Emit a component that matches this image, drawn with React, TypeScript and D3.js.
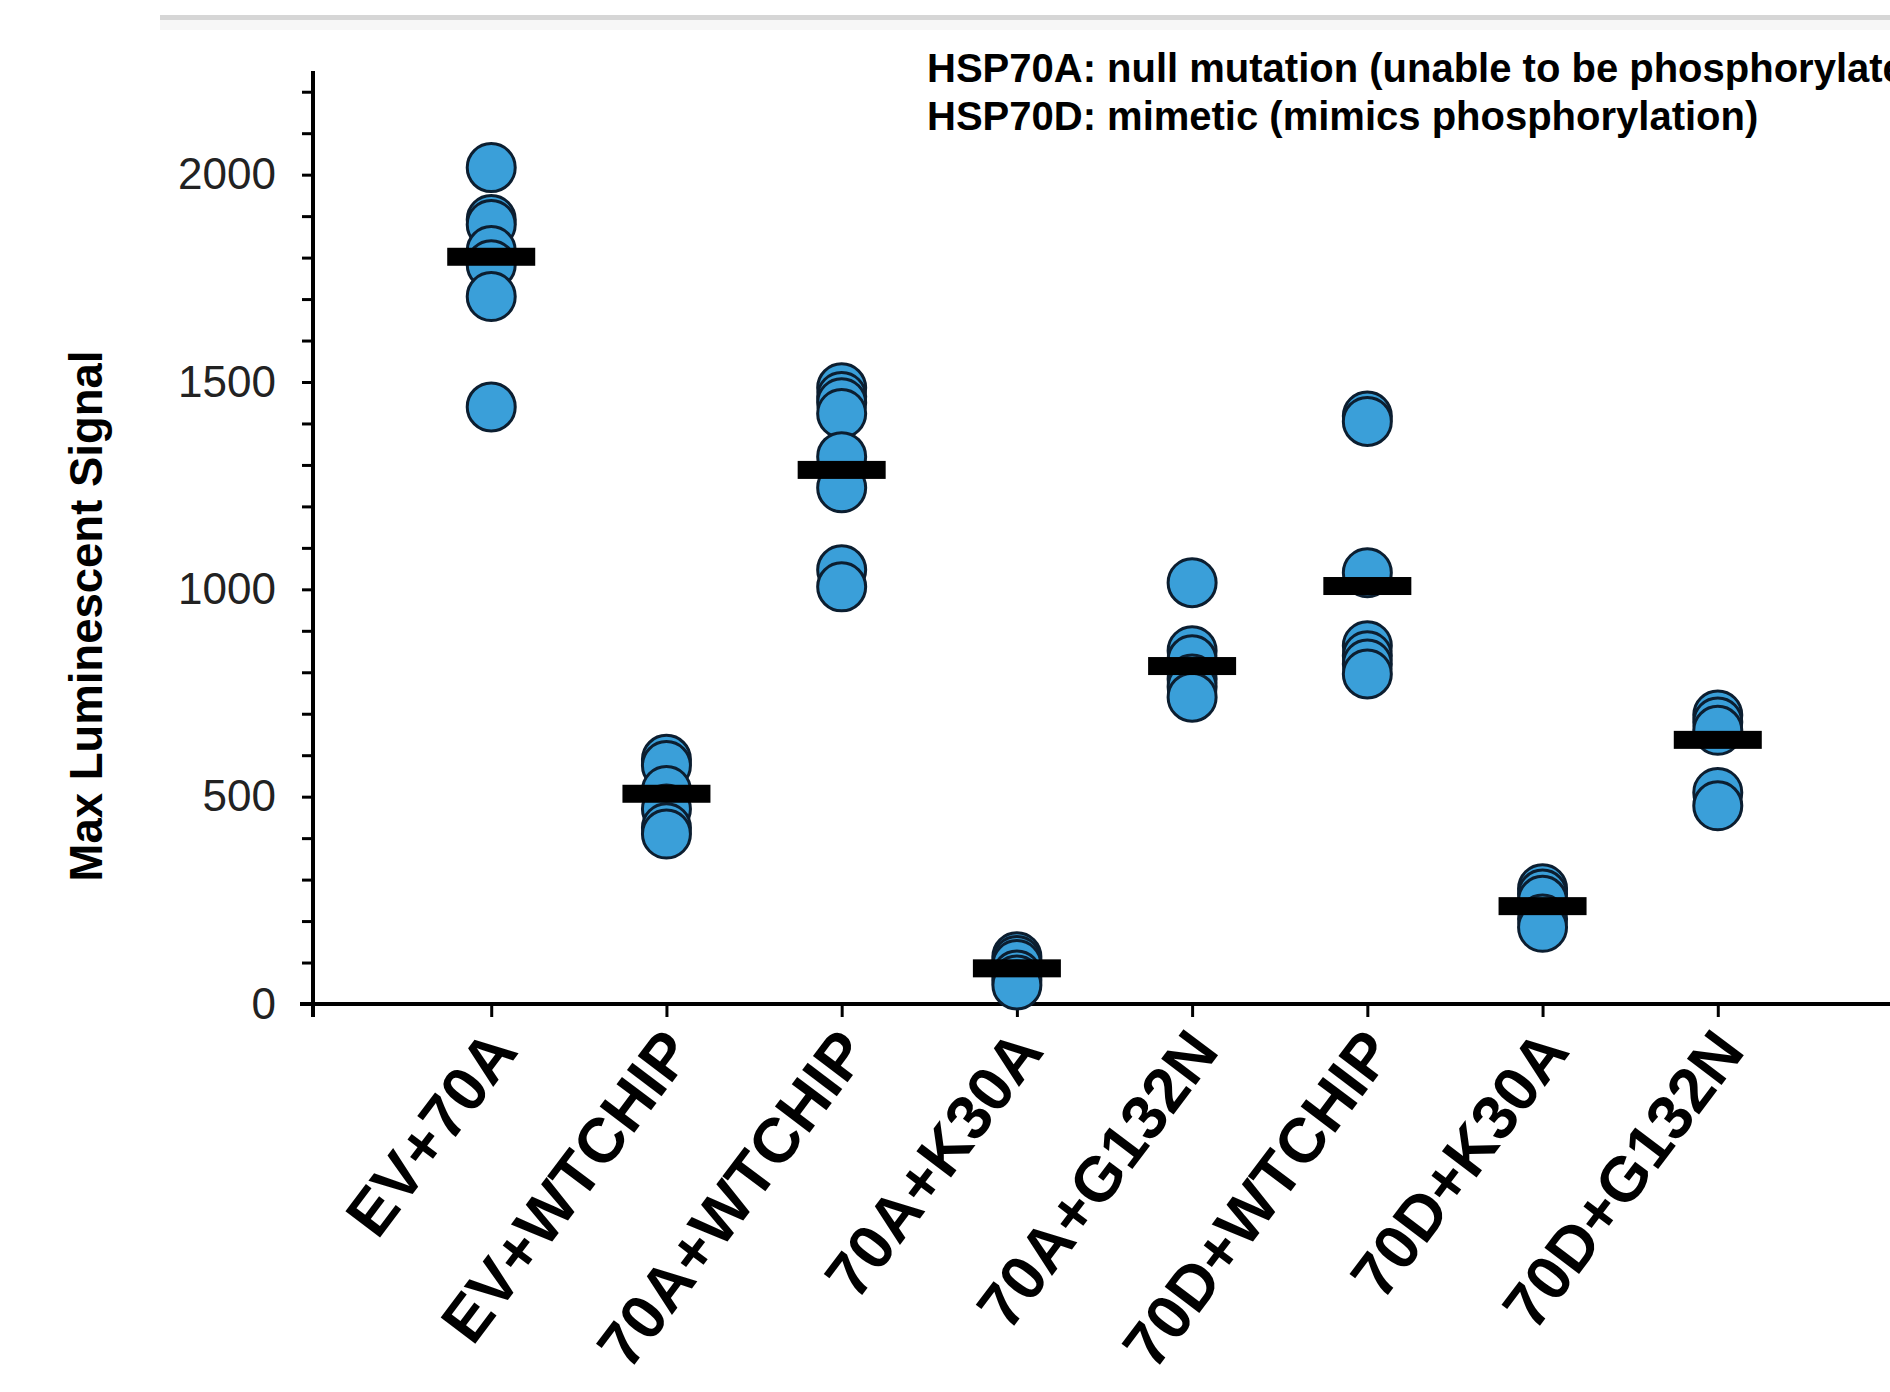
import React, { useRef, useEffect } from "react";
import * as d3 from "d3";

// groups along the x axis
const categories = [
  "EV+70A",
  "EV+WTCHIP",
  "70A+WTCHIP",
  "70A+K30A",
  "70A+G132N",
  "70D+WTCHIP",
  "70D+K30A",
  "70D+G132N",
];

// individual replicates
const evPlus70A = [2017, 1892, 1880, 1817, 1783, 1706, 1440];
const evPlusWtchip = [590, 575, 515, 470, 425, 410];
const a70PlusWtchip = [1486, 1465, 1450, 1424, 1320, 1245, 1047, 1006];
const a70PlusK30A = [114, 105, 95, 70, 58, 46];
const a70PlusG132N = [1016, 852, 830, 784, 765, 740];
const d70PlusWtchip = [1418, 1405, 1040, 864, 840, 820, 796];
const d70PlusK30A = [278, 265, 250, 205, 185];
const d70PlusG132N = [697, 680, 660, 510, 478];

// horizontal line per group
const centerLines = [1802, 507, 1288, 86, 815, 1008, 236, 637];

const yMax = 2250;
const yLabelTicks = [0, 500, 1000, 1500, 2000];

const notes = [
  "HSP70A: null mutation (unable to be phosphorylated)",
  "HSP70D: mimetic (mimics phosphorylation)",
];
const yTitle = "Max Luminescent Signal";

const FONT = "'Liberation Sans', Arial, Helvetica, sans-serif";

const App = () => {
  const svgRef = useRef(null);

  const groups = [
    evPlus70A,
    evPlusWtchip,
    a70PlusWtchip,
    a70PlusK30A,
    a70PlusG132N,
    d70PlusWtchip,
    d70PlusK30A,
    d70PlusG132N,
  ];

  useEffect(() => {
    const svg = d3.select(svgRef.current);
    svg.selectAll("*").remove();

    const axisX = 313;
    const x = d3.scalePoint().domain(categories).range([316, 1893]).padding(1);
    const y = d3.scaleLinear().domain([0, yMax]).range([1004, 71]);

    // grey rule at the top of the page
    svg.append("rect").attr("x", 160).attr("y", 15).attr("width", 1730).attr("height", 5).attr("fill", "#d6d6d6");
    svg.append("rect").attr("x", 160).attr("y", 20).attr("width", 1730).attr("height", 10).attr("fill", "#f7f7f7");

    // y axis: minor ticks every 100, labels every 500
    const yAxis = svg
      .append("g")
      .attr("transform", `translate(${axisX},0)`)
      .call(
        d3
          .axisLeft(y)
          .tickValues(d3.range(0, 2201, 100))
          .tickSize(11)
          .tickPadding(26)
          .tickFormat((d) => (yLabelTicks.includes(d) ? String(d) : ""))
      );
    yAxis.select(".domain").remove();
    yAxis.selectAll("line").attr("stroke", "#000").attr("stroke-width", 3);
    yAxis
      .selectAll("text")
      .attr("font-family", FONT)
      .attr("font-size", 44)
      .attr("fill", "#222");

    svg
      .append("line")
      .attr("x1", axisX)
      .attr("x2", axisX)
      .attr("y1", y(yMax))
      .attr("y2", y(0) + 13)
      .attr("stroke", "#000")
      .attr("stroke-width", 4);

    // x axis
    const xAxis = svg
      .append("g")
      .attr("transform", `translate(0,${y(0)})`)
      .call(d3.axisBottom(x).tickSize(13));
    xAxis.select(".domain").remove();
    xAxis.selectAll("line").attr("stroke", "#000").attr("stroke-width", 3);
    xAxis
      .selectAll("text")
      .attr("x", 0)
      .attr("y", 0)
      .attr("dy", 0)
      .attr("transform", "translate(28,48) rotate(-53)")
      .attr("text-anchor", "end")
      .attr("font-family", FONT)
      .attr("font-size", 63)
      .attr("font-weight", "bold")
      .attr("fill", "#000");

    svg
      .append("line")
      .attr("x1", 300)
      .attr("x2", 1890)
      .attr("y1", y(0))
      .attr("y2", y(0))
      .attr("stroke", "#000")
      .attr("stroke-width", 4);

    // y title
    svg
      .append("text")
      .attr("transform", `translate(102,616) rotate(-90)`)
      .attr("text-anchor", "middle")
      .attr("font-family", FONT)
      .attr("font-size", 45.5)
      .attr("font-weight", "bold")
      .text(yTitle);

    // points
    const plot = svg.append("g");
    groups.forEach((vals, i) => {
      plot
        .append("g")
        .selectAll("circle")
        .data(vals)
        .enter()
        .append("circle")
        .attr("cx", x(categories[i]))
        .attr("cy", (d) => y(d))
        .attr("r", 24)
        .attr("fill", "#3a9fd9")
        .attr("stroke", "#0c1e30")
        .attr("stroke-width", 3);
    });

    // center bars
    plot
      .selectAll("rect.center")
      .data(centerLines)
      .enter()
      .append("rect")
      .attr("class", "center")
      .attr("x", (d, i) => x(categories[i]) - 44)
      .attr("y", (d) => y(d) - 9)
      .attr("width", 88)
      .attr("height", 18)
      .attr("fill", "#000");

    // notes
    svg
      .append("g")
      .selectAll("text")
      .data(notes)
      .enter()
      .append("text")
      .attr("x", 927)
      .attr("y", (d, i) => 82 + i * 48)
      .attr("font-family", FONT)
      .attr("font-size", 40)
      .attr("font-weight", "bold")
      .attr("fill", "#000")
      .text((d) => d);
  }, []);

  return (
    <div>
      <style>{`body{margin:0}`}</style>
      <svg ref={svgRef} width={1890} height={1392} style={{ display: "block", background: "#fff" }} />
    </div>
  );
};

export default App;
